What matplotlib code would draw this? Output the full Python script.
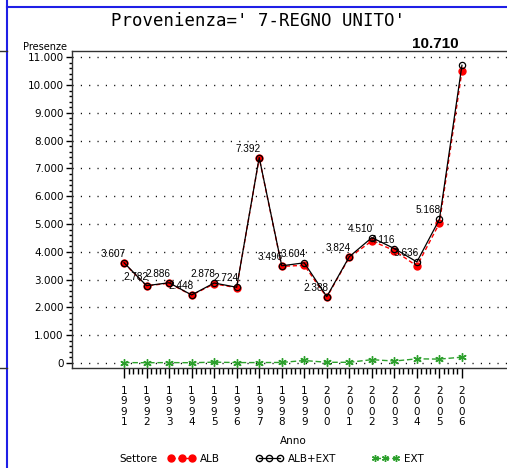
import numpy as np
import matplotlib
matplotlib.use("Agg")
import matplotlib.pyplot as plt
from matplotlib.lines import Line2D
from matplotlib.ticker import MultipleLocator, FixedLocator, FuncFormatter
from matplotlib import font_manager

years = [1991, 1992, 1993, 1994, 1995, 1996, 1997, 1998,
         1999, 2000, 2001, 2002, 2003, 2004, 2005, 2006]
alb_ext = [3607, 2782, 2886, 2448, 2878, 2724, 7392, 3496,
           3604, 2388, 3824, 4510, 4116, 3636, 5168, 10710]
ext = [15, 10, 15, 10, 30, 15, 15, 20,
       90, 25, 25, 120, 70, 150, 140, 210]
alb = [3592, 2772, 2871, 2438, 2848, 2709, 7377, 3476,
       3514, 2363, 3799, 4390, 4046, 3486, 5028, 10500]

title = "Provenienza=' 7-REGNO UNITO'"
legend_title = "Settore"
series_names = ["ALB", "ALB+EXT", "EXT"]

names = {f.name for f in font_manager.fontManager.ttflist}
narrow = "Liberation Sans Narrow" if "Liberation Sans Narrow" in names else "DejaVu Sans"


def it_fmt(v):
    return f"{int(round(v)):,}".replace(",", ".")


W, H = 507, 468
fig = plt.figure(figsize=(W / 100, H / 100), dpi=100)
ax = fig.add_axes([72 / W, 1 - 368 / H, 1 - 72 / W, (368 - 50.7) / H])

ax.set_xlim(1988.69, 2008.0)
ax.set_ylim(-180, 11234)

for y in range(0, 11001, 1000):
    ax.axhline(y, color="black", lw=1.0, ls=(0, (0.8, 5.2)), zorder=1)

ax.plot(years, ext, color="#2ca02c", ls=(0, (4, 2)), lw=1,
        marker=(6, 2, 0), ms=6, mew=1, zorder=3)
ax.plot(years, alb, color="red", ls=(0, (3, 2)), lw=1,
        marker="o", ms=5, mfc="red", mec="red", zorder=3)
ax.plot(years, alb_ext, color="black", lw=0.9,
        marker="o", ms=4.5, mfc="none", mec="black", mew=0.9, zorder=4)

for x, v in zip(years[:-1], alb_ext[:-1]):
    ax.annotate(it_fmt(v), (x, v), xytext=(-11, 9), textcoords="offset pixels",
                ha="center", va="center", fontsize=7.2, family="Liberation Sans")
ax.annotate(it_fmt(alb_ext[-1]), (years[-1], alb_ext[-1]), xytext=(-27, 21),
            textcoords="offset pixels", ha="center", va="center",
            fontsize=11, fontweight="bold", family="Liberation Sans",
            annotation_clip=False)

ax.spines["right"].set_visible(False)
for s in ["left", "bottom", "top"]:
    ax.spines[s].set_linewidth(1.0)
    ax.spines[s].set_color("#333333")

ax.set_xticks(years)
ax.set_xticklabels(["\n".join(str(y)) for y in years], linespacing=1.05)
xminor = [y + k * 0.2 for y in years[:-1] for k in range(1, 5)]
ax.xaxis.set_minor_locator(FixedLocator(xminor))
ax.yaxis.set_major_locator(MultipleLocator(1000))
ax.yaxis.set_minor_locator(FixedLocator([v for v in range(0, 11001, 200) if v % 1000]))
ax.yaxis.set_major_formatter(FuncFormatter(lambda v, p: it_fmt(v)))
ax.tick_params(axis="x", which="major", length=7, width=1, pad=6, labelsize=7.5)
ax.tick_params(axis="x", which="minor", length=4, width=1)
ax.tick_params(axis="y", which="major", length=4, width=1, pad=2, labelsize=7.5)
ax.tick_params(axis="y", which="minor", length=2, width=1)
for lab in ax.get_xticklabels() + ax.get_yticklabels():
    lab.set_family([narrow, "DejaVu Sans"])

fig.text(258 / W, 1 - 21 / H, title, ha="center", va="center",
         fontsize=12.5, family="DejaVu Sans Mono")
fig.text(67 / W, 1 - 47 / H, "Presenze", ha="right", va="center",
         fontsize=7, family=[narrow, "DejaVu Sans"])
fig.text(293 / W, 1 - 441 / H, "Anno", ha="center", va="center",
         fontsize=7.5, family=[narrow, "DejaVu Sans"])
fig.text(119 / W, 1 - 459 / H, legend_title, ha="left", va="center",
         fontsize=7.5, family=[narrow, "DejaVu Sans"])

handles = [
    Line2D([], [], color="red", ls=(0, (3, 2)), lw=1, marker="o", ms=5, mfc="red", mec="red"),
    Line2D([], [], color="black", lw=0.9, marker="o", ms=4.5, mfc="none", mec="black"),
    Line2D([], [], color="#2ca02c", ls=(0, (4, 2)), lw=1, marker=(6, 2, 0), ms=5),
]
fig.legend(handles, series_names, loc="center left", bbox_to_anchor=(168 / W, 1 - 459 / H),
           ncol=3, frameon=False, numpoints=3, handlelength=2.6, handletextpad=0.5,
           columnspacing=3.4, borderpad=0, borderaxespad=0,
           prop={"family": [narrow, "DejaVu Sans"], "size": 7.5})

# page frame lines
blue = "#1f1fe6"
fig.add_artist(Line2D([7 / W, 7 / W], [0, 1], color=blue, lw=1.5))
fig.add_artist(Line2D([7 / W, 1], [1 - 7 / H, 1 - 7 / H], color=blue, lw=1.5))
fig.add_artist(Line2D([0, 7 / W], [1 - 50.7 / H, 1 - 50.7 / H], color="#333333", lw=1))
fig.add_artist(Line2D([0, 7 / W], [1 - 368 / H, 1 - 368 / H], color="#333333", lw=1))

fig.savefig("out.png", dpi=100)
